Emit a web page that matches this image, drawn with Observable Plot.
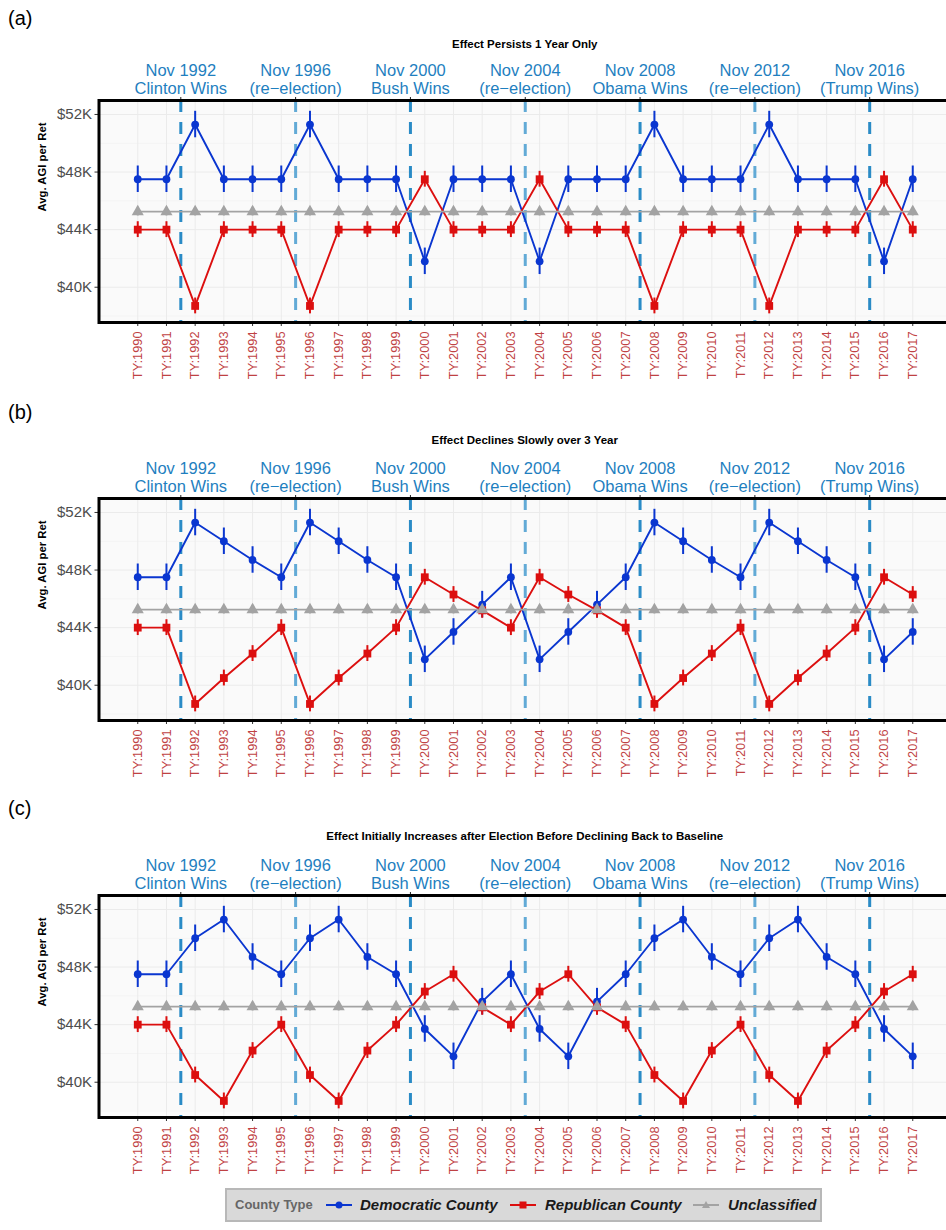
<!DOCTYPE html>
<html><head><meta charset="utf-8">
<script src="https://cdn.jsdelivr.net/npm/d3@7"></script>
<script src="https://cdn.jsdelivr.net/npm/@observablehq/plot@0.6"></script>
<style>
body{margin:0;background:#fff;}
#root{position:relative;width:946px;height:1230px;overflow:hidden;font-family:"Liberation Sans",Arial,sans-serif;}
.plabel{position:absolute;left:8px;font-size:20px;line-height:26px;color:#000;}
.ptitle{position:absolute;left:98.5px;width:852.5px;text-align:center;font-size:11.5px;font-weight:bold;line-height:15px;color:#000;}
.panel{position:absolute;left:0;width:953px;}
.panel svg{max-width:none !important;}
#legend{position:absolute;left:225px;top:1188px;width:597px;height:34px;box-sizing:border-box;background:#d9d9d9;border:2px solid #b8b8b8;}
#legend .it{position:absolute;top:0;height:30px;line-height:30px;white-space:nowrap;}
#legend .lt{font-size:13px;font-weight:bold;color:#666;}
#legend .lb{font-size:15px;font-weight:bold;font-style:italic;color:#1a1a1a;}
#legend svg{position:absolute;top:8px;}
</style>
</head><body>
<div id="root"></div>
<script>
// ---- data ----
const years = [1990,1991,1992,1993,1994,1995,1996,1997,1998,1999,2000,2001,2002,2003,2004,2005,2006,2007,2008,2009,2010,2011,2012,2013,2014,2015,2016,2017];
const seriesNames = ["Democratic County","Republican County","Unclassified"];
const panelLetters = ["(a)","(b)","(c)"];
const panelTitles = ["Effect Persists 1 Year Only","Effect Declines Slowly over 3 Year","Effect Initially Increases after Election Before Declining Back to Baseline"];

const demA = [47.5,47.5,51.3,47.5,47.5,47.5,51.3,47.5,47.5,47.5,41.8,47.5,47.5,47.5,41.8,47.5,47.5,47.5,51.3,47.5,47.5,47.5,51.3,47.5,47.5,47.5,41.8,47.5];
const repA = [44,44,38.7,44,44,44,38.7,44,44,44,47.5,44,44,44,47.5,44,44,44,38.7,44,44,44,38.7,44,44,44,47.5,44];
const demB = [47.5,47.5,51.3,50.0,48.7,47.5,51.3,50.0,48.7,47.5,41.8,43.7,45.6,47.5,41.8,43.7,45.6,47.5,51.3,50.0,48.7,47.5,51.3,50.0,48.7,47.5,41.8,43.7];
const repB = [44,44,38.7,40.5,42.2,44,38.7,40.5,42.2,44,47.5,46.3,45.2,44,47.5,46.3,45.2,44,38.7,40.5,42.2,44,38.7,40.5,42.2,44,47.5,46.3];
const demC = [47.5,47.5,50.0,51.3,48.7,47.5,50.0,51.3,48.7,47.5,43.7,41.8,45.6,47.5,43.7,41.8,45.6,47.5,50.0,51.3,48.7,47.5,50.0,51.3,48.7,47.5,43.7,41.8];
const repC = [44,44,40.5,38.7,42.2,44,40.5,38.7,42.2,44,46.3,47.5,45.2,44,46.3,47.5,45.2,44,40.5,38.7,42.2,44,40.5,38.7,42.2,44,46.3,47.5];
const uncl = [45.25,45.25,45.25,45.25,45.25,45.25,45.25,45.25,45.25,45.25,45.25,45.25,45.25,45.25,45.25,45.25,45.25,45.25,45.25,45.25,45.25,45.25,45.25,45.25,45.25,45.25,45.25,45.25];
const seriesErr = [0.92, 0.55, 0.3];

const elecX = [1991.5,1995.5,1999.5,2003.5,2007.5,2011.5,2015.5];
const elecLabels = ["Nov 1992\nClinton Wins","Nov 1996\n(re\u2212election)","Nov 2000\nBush Wins","Nov 2004\n(re\u2212election)","Nov 2008\nObama Wins","Nov 2012\n(re\u2212election)","Nov 2016\n(Trump Wins)"];
const elecNew = [1991.5,1999.5,2007.5,2015.5];
const elecRe = [1995.5,2003.5,2011.5];
const yTicks = [40,44,48,52];
const yMinor = [38,42,46,50];

// ---- styles ----
const colors = ["#0a36d0","#dc0f0f","#a3a3a3"];
const symbols = ["circle","square","triangle"];
const radii = [3.9,4.4,4.5];
const font = '"Liberation Sans", Arial, sans-serif';

const panels = [[demA,repA],[demB,repB],[demC,repC]];
const labelTop = [5,399,795];
const titleTop = [37,433,829];
const svgTop = [50,448,845];

const root = document.getElementById("root");
const labelMap = new Map(elecX.map((x,i)=>[x, elecLabels[i]]));

panels.forEach(([dem,rep], p) => {
  const l = document.createElement("div"); l.className="plabel"; l.style.top=labelTop[p]+"px"; l.textContent=panelLetters[p]; root.appendChild(l);
  const t = document.createElement("div"); t.className="ptitle"; t.style.top=titleTop[p]+"px"; t.textContent=panelTitles[p]; root.appendChild(t);

  const vals = [dem, rep, uncl];
  const series = vals.map((arr, s) => years.map((yr,i)=>({year:yr, v:arr[i], s:seriesNames[s], e:seriesErr[s]})));

  const marks = [
    Plot.frame({fill:"#fafafa", stroke:null}),
    Plot.ruleY(yMinor, {stroke:"#f1f1f1", strokeWidth:0.7}),
    Plot.ruleY(yTicks, {stroke:"#ebebeb", strokeWidth:1}),
    Plot.ruleX(years, {stroke:"#ebebeb", strokeWidth:1}),
    Plot.ruleX(elecNew, {stroke:"#2a8bc6", strokeWidth:3, strokeDasharray:"12,10"}),
    Plot.ruleX(elecRe, {stroke:"#62aad6", strokeWidth:3, strokeDasharray:"12,10"})
  ];
  series.forEach((rows, s) => marks.push(Plot.line(rows, {x:"year", y:"v", stroke:colors[s], strokeWidth:1.9})));
  series.forEach((rows, s) => marks.push(Plot.ruleX(rows, {x:"year", y1:d=>d.v-d.e, y2:d=>d.v+d.e, stroke:colors[s], strokeWidth:2})));
  series.forEach((rows, s) => marks.push(Plot.dot(rows, {x:"year", y:"v", fill:colors[s], stroke:null, symbol:symbols[s], r:radii[s]})));
  marks.push(
    Plot.axisY({ticks:yTicks, tickFormat:d=>`$${d}K`, tickSize:4, tickPadding:3, fontSize:15, fill:"#4d4d4d", stroke:"#333", label:null}),
    Plot.axisX({ticks:years, tickFormat:d=>`TY:${d}`, tickRotate:-90, tickSize:4, tickPadding:5, fontSize:12.8, fill:"#bf4243", stroke:"#333", label:null}),
    Plot.axisX({anchor:"top", ticks:elecX, tickFormat:d=>labelMap.get(d), tickSize:4, tickPadding:3, fontSize:16.5, lineHeight:1.07, fill:"#1f7fbf", stroke:"#222", label:null}),
    Plot.text(["Avg. AGI per Ret"], {text:d=>d, frameAnchor:"left", dx:-56.5, rotate:-90, fontWeight:"bold", fontSize:11.3, fill:"#000"}),
    Plot.frame({stroke:"#000", strokeWidth:3})
  );

  const chart = Plot.plot({
    width:953, height:340, marginLeft:98.5, marginRight:2, marginTop:50, marginBottom:68,
    x:{domain:[1988.65,2018.35]},
    y:{domain:[37.55,52.97]},
    style:{fontFamily:font, background:"transparent", overflow:"visible", maxWidth:"none"},
    marks
  });
  const wrap = document.createElement("div"); wrap.className="panel"; wrap.style.top=svgTop[p]+"px";
  wrap.appendChild(chart); root.appendChild(wrap);
});

// ---- legend ----
const legend = document.createElement("div"); legend.id="legend"; root.appendChild(legend);
function add(html, left, cls){ const d=document.createElement("div"); d.className="it "+cls; d.style.left=left+"px"; d.textContent=html; legend.appendChild(d); }
add("County Type", 8, "lt");
const keyLeft = [99, 283, 466];
const textLeft = [133, 318, 501];
seriesNames.forEach((name, s) => {
  const ns="http://www.w3.org/2000/svg";
  const svg=document.createElementNS(ns,"svg"); svg.setAttribute("width","26"); svg.setAttribute("height","14"); svg.style.left=keyLeft[s]+"px";
  const ln=document.createElementNS(ns,"line"); ln.setAttribute("x1","0"); ln.setAttribute("x2","26"); ln.setAttribute("y1","7"); ln.setAttribute("y2","7"); ln.setAttribute("stroke",colors[s]); ln.setAttribute("stroke-width","2"); svg.appendChild(ln);
  let m;
  if (s===0){ m=document.createElementNS(ns,"circle"); m.setAttribute("cx","13"); m.setAttribute("cy","7"); m.setAttribute("r","3.5"); }
  else if (s===1){ m=document.createElementNS(ns,"rect"); m.setAttribute("x","9.5"); m.setAttribute("y","3.5"); m.setAttribute("width","7"); m.setAttribute("height","7"); }
  else { m=document.createElementNS(ns,"path"); m.setAttribute("d","M13,3 L17,10 L9,10 Z"); }
  m.setAttribute("fill",colors[s]); svg.appendChild(m);
  legend.appendChild(svg);
  add(name, textLeft[s], "lb");
});
</script>
</body></html>
